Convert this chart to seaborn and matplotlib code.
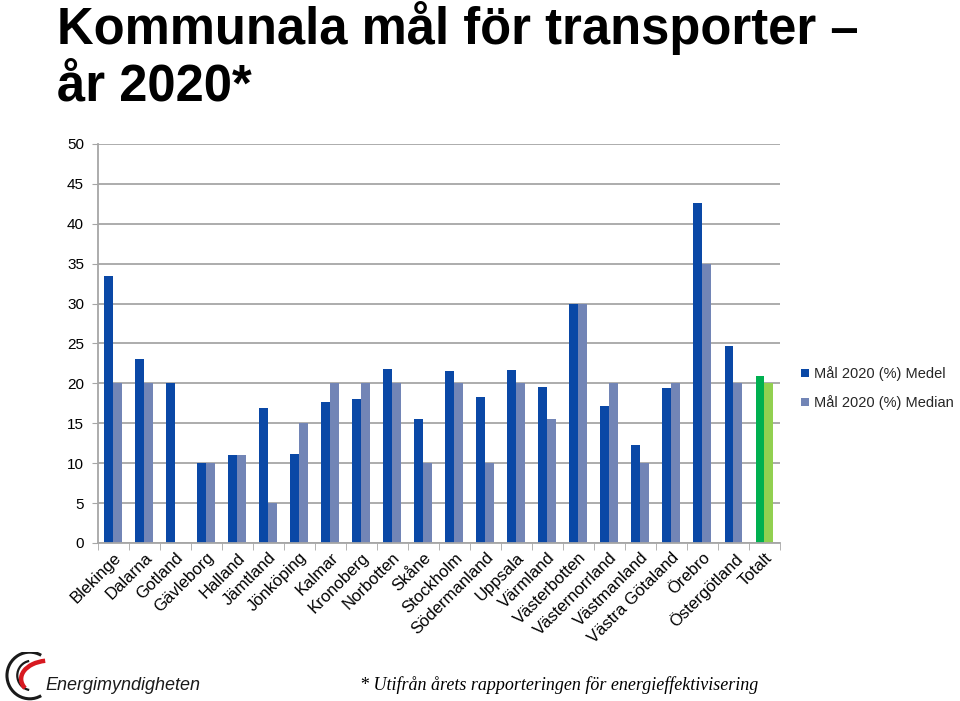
import numpy as np
import pandas as pd
import matplotlib
matplotlib.use('Agg')
import matplotlib.pyplot as plt
import seaborn as sns
from matplotlib.patches import Arc

# Data
lan = ['Blekinge', 'Dalarna', 'Gotland', 'Gävleborg', 'Halland', 'Jämtland',
       'Jönköping', 'Kalmar', 'Kronoberg', 'Norbotten', 'Skåne', 'Stockholm',
       'Södermanland', 'Uppsala', 'Värmland', 'Västerbotten', 'Västernorrland',
       'Västmanland', 'Västra Götaland', 'Örebro', 'Östergötland', 'Totalt']
medel = [33.4, 23.0, 20.0, 10.0, 11.0, 16.9, 11.1, 17.7, 18.0, 21.8, 15.5,
         21.5, 18.3, 21.7, 19.6, 30.0, 17.2, 12.3, 19.4, 42.6, 24.7, 20.9]
median = [20.0, 20.0, np.nan, 10.0, 11.0, 5.0, 15.0, 20.0, 20.0, 20.0, 10.0,
          20.0, 10.0, 20.0, 15.5, 30.0, 20.0, 10.0, 20.0, 35.0, 20.0, 20.0]
serier = ['Mål 2020 (%) Medel', 'Mål 2020 (%) Median']

df = pd.DataFrame({'Län': lan * 2,
                   'Värde': medel + median,
                   'Serie': [serier[0]] * len(lan) + [serier[1]] * len(lan)})

sns.set_style('white')
plt.rcParams['font.family'] = ['Liberation Sans', 'DejaVu Sans']

fig = plt.figure(figsize=(9.6, 7.01), dpi=100)
ax = fig.add_axes([0.102, 0.2254, 0.7105, 0.5692])

sns.barplot(data=df, x='Län', y='Värde', hue='Serie', hue_order=serier,
            palette=['#0A48A6', '#7285B6'], width=0.58, gap=0,
            saturation=1, linewidth=0, edgecolor='none', ax=ax, legend=True)

# green colours for the Totalt pair
ax.containers[0].patches[-1].set_facecolor('#00B050')
ax.containers[1].patches[-1].set_facecolor('#92D050')

ax.set_ylim(0, 50)
ax.set_xlim(-0.5, len(lan) - 0.5)
ax.set_yticks(np.arange(0, 51, 5))
ax.yaxis.grid(True, color='#A6A6A6', linewidth=1.3)
ax.set_axisbelow(True)
ax.set_xlabel('')
ax.set_ylabel('')
for s in ['top', 'right']:
    ax.spines[s].set_visible(False)
for s in ['left', 'bottom']:
    ax.spines[s].set_color('#A6A6A6')
    ax.spines[s].set_linewidth(1.3)

ax.tick_params(axis='y', labelsize=11, length=4, color='#A6A6A6', direction='out',
               left=True, pad=6, labelcolor='black')
ax.set_xticks(np.arange(len(lan)))
ax.set_xticks(np.arange(len(lan) + 1) - 0.5, minor=True)
ax.tick_params(axis='x', which='major', length=0, pad=5)
ax.tick_params(axis='x', which='minor', length=5, color='#A6A6A6', direction='out',
               bottom=True)
ax.set_xticklabels(lan, rotation=45, ha='right', rotation_mode='anchor',
                   fontsize=12, color='black')

leg = ax.legend(loc='center left', bbox_to_anchor=(1.012, 0.388), frameon=False,
                fontsize=10.5, handlelength=0.55, handleheight=0.55,
                handletextpad=0.35, labelspacing=0.95)

# title
fig.text(0.059, 0.9372, 'Kommunala mål för transporter –',
         fontsize=36.5, fontweight='bold', va='baseline', ha='left', color='black')
fig.text(0.059, 0.856, 'år 2020*',
         fontsize=36.5, fontweight='bold', va='baseline', ha='left', color='black')

# footnote
fig.text(0.375, 0.0157, '* Utifrån årets rapporteringen för energieffektivisering',
         family=['Liberation Serif', 'DejaVu Serif'], style='italic',
         fontsize=13, ha='left', va='baseline', color='black')

# logo
fig.text(0.047, 0.0157, 'Energimyndigheten', fontsize=13, ha='left', va='baseline',
         color='#1A1A1A', style='italic')
lax = fig.add_axes([0.002, 0.0, 0.05, 0.07])
lax.set_xlim(0, 1)
lax.set_ylim(0, 1)
lax.axis('off')
lax.add_patch(Arc((0.58, 0.52), 0.95, 0.95, theta1=60, theta2=300,
                  color='#1A1A1A', linewidth=2.2))
lax.add_patch(Arc((0.62, 0.52), 0.6, 0.6, theta1=100, theta2=260,
                  color='#1A1A1A', linewidth=1.6))
lax.add_patch(Arc((1.0, 0.45), 1.2, 0.75, theta1=105, theta2=200,
                  color='#D71920', linewidth=3.2))

fig.savefig('out.png', dpi=100)
